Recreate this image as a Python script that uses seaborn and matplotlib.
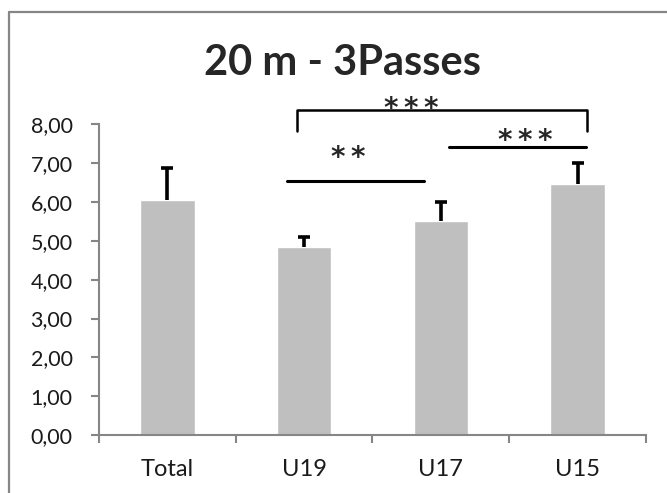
import matplotlib
matplotlib.use("Agg")
import matplotlib.pyplot as plt
import matplotlib.ticker as mtick
from matplotlib.lines import Line2D
import seaborn as sns
import pandas as pd

# Daten
categories = ["Total", "U19", "U17", "U15"]
means = [6.04, 4.84, 5.51, 6.47]
errors = [0.82, 0.26, 0.49, 0.54]

# Signifikanz-Linien: (x0, x1, y, label, label_x, label_y)
sp = "\u2009"
sig_lines = [
    (0.875, 1.877, 6.53, sp.join("**"), 1.32, 7.12),
    (2.06, 3.06, 7.40, sp.join("***"), 2.615, 7.57),
]
bracket = (0.946, 3.068, 7.81, 8.37, sp.join("***"), 1.787, 8.39)

sns.set_style("white")
plt.rcParams["font.family"] = ["Lato", "DejaVu Sans"]

gray = "#868686"
df = pd.DataFrame({"Gruppe": categories, "Wert": means})

fig = plt.figure(figsize=(6.67, 4.93), dpi=100)
ax = fig.add_axes([99 / 667, 1 - 435.3 / 493, (646 - 99) / 667, (435.3 - 124) / 493])

sns.barplot(data=df, x="Gruppe", y="Wert", color="#BFBFBF", width=0.4,
            saturation=1, errorbar=None, ax=ax, zorder=2)
eb = ax.errorbar(range(len(categories)), means, yerr=[[0] * len(errors), errors],
                 fmt="none", ecolor="black", elinewidth=2.6, capsize=4.3,
                 capthick=2.6, zorder=3)
# nur obere Kappe anzeigen
eb[1][0].set_visible(False)

ax.set_ylim(0, 8)
ax.set_xlim(-0.5, len(categories) - 0.5)
ax.set_yticks(range(0, 9))
ax.yaxis.set_major_formatter(mtick.FuncFormatter(lambda v, p: f"{v:.2f}".replace(".", ",")))
ax.set_xlabel("")
ax.set_ylabel("")

for s in ["top", "right"]:
    ax.spines[s].set_visible(False)
for s in ["left", "bottom"]:
    ax.spines[s].set_color(gray)
    ax.spines[s].set_linewidth(1.5)

ax.tick_params(axis="y", direction="out", length=6, width=1.5, color=gray,
               labelsize=15.5, pad=13, left=True, labelcolor="#1a1a1a")
ax.set_xticks([i - 0.5 for i in range(len(categories) + 1)], minor=True)
ax.tick_params(axis="x", which="minor", direction="out", length=6, width=1.5,
               color=gray, bottom=True)
ax.tick_params(axis="x", which="major", length=0, labelsize=17, pad=17,
               labelcolor="#1a1a1a")

# Signifikanzen
for x0, x1, y, lab, lx, ly in sig_lines:
    ax.plot([x0, x1], [y, y], color="black", lw=2.2, clip_on=False)
    ax.text(lx, ly, lab, ha="center", va="center", fontsize=20,
            family="DejaVu Sans", fontweight="bold")

bx0, bx1, by0, by1, blab, blx, bly = bracket
ax.plot([bx0, bx0, bx1, bx1], [by0, by1, by1, by0], color="black", lw=1.8, clip_on=False)
ax.text(blx, bly, blab, ha="center", va="center", fontsize=20,
        family="DejaVu Sans", fontweight="bold")

# Titel
fig.text(0.514, 1 - 63 / 493, "20 m - 3Passes", ha="center", va="center",
         fontsize=30, fontweight="bold")

# Rahmen des Diagrammbereichs
fig.add_artist(Line2D([8.5 / 667, 8.5 / 667], [0, 1 - 12 / 493], color=gray, lw=1.6))
fig.add_artist(Line2D([8.5 / 667, 1], [1 - 12 / 493, 1 - 12 / 493], color=gray, lw=1.6))

fig.savefig("out.png", dpi=100)
